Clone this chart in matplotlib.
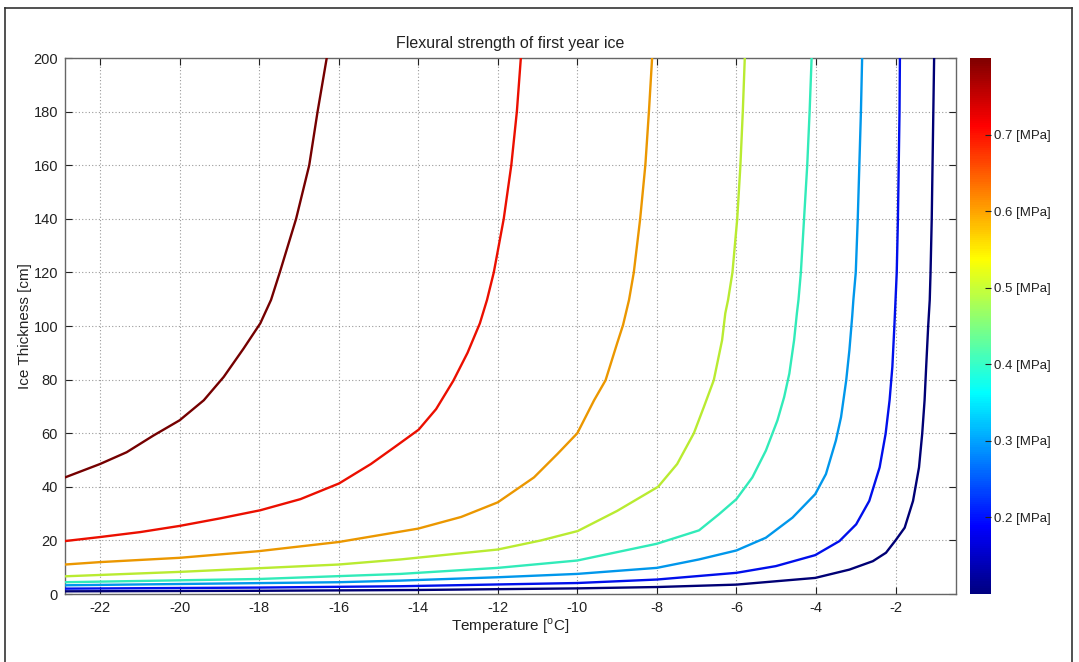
import matplotlib
matplotlib.use("Agg")
import matplotlib.pyplot as plt
import numpy as np
from matplotlib.lines import Line2D
from matplotlib import cm, colors

plt.rcParams['font.family'] = ['Liberation Sans', 'DejaVu Sans']
plt.rcParams['mathtext.fontset'] = 'custom'
plt.rcParams['mathtext.rm'] = 'Liberation Sans'

# Contour levels (MPa)
levels = [0.1, 0.2, 0.3, 0.4, 0.5, 0.6, 0.7, 0.8]

# Curves: temperature [degC] and ice thickness [cm]
t_01 = [-22.88, -18, -14, -10, -8, -6, -4.02, -3.16, -2.57, -2.24, -2.0, -1.77, -1.56, -1.41, -1.33, -1.27, -1.23, -1.18, -1.14, -1.12, -1.09, -1.07, -1.05, -1.03]
h_01 = [1.0, 1.2, 1.5, 2.1, 2.6, 3.5, 6.0, 9.1, 12.25, 15.4, 20, 24.75, 34.75, 47.25, 59.75, 72.25, 84.75, 99.75, 109.75, 120, 140, 160, 180, 200]

t_02 = [-22.88, -18, -14.44, -10, -8, -6, -5.01, -4.02, -3.41, -2.99, -2.66, -2.40, -2.25, -2.15, -2.08, -2.03, -2.0, -1.97, -1.94, -1.92, -1.90, -1.89]
h_02 = [2.0, 2.4, 2.9, 4.1, 5.4, 7.9, 10.4, 14.5, 19.75, 26, 34.75, 47.25, 59.75, 72.25, 84.75, 99.75, 109.75, 120, 140, 160, 180, 200]

t_03 = [-22.88, -16, -14.44, -12, -10, -8, -6.94, -6, -5.26, -4.59, -4.02, -3.75, -3.50, -3.37, -3.24, -3.16, -3.09, -3.06, -3.0, -2.95, -2.91, -2.87, -2.84]
h_03 = [3.25, 4.4, 5.0, 6.25, 7.5, 9.75, 12.9, 16.25, 21, 28.5, 37.25, 44.75, 57.25, 66, 79.75, 91, 103.5, 109.75, 120, 140, 160, 180, 200]

t_04 = [-22.88, -18, -14.44, -12, -10, -8, -6.94, -6.44, -6, -5.6, -5.26, -4.97, -4.80, -4.67, -4.55, -4.48, -4.44, -4.38, -4.3, -4.22, -4.16, -4.11]
h_04 = [4.4, 5.6, 7.5, 9.75, 12.5, 18.75, 23.75, 29.75, 35.4, 43.5, 53.5, 64.75, 73.5, 82.25, 94.75, 104.75, 109.75, 120, 140, 160, 180, 200]

t_05 = [-22.88, -20, -16, -14.44, -12, -10.91, -9.99, -9.0, -7.97, -7.49, -7.07, -6.82, -6.57, -6.36, -6.28, -6.21, -6.1, -5.98, -5.9, -5.84, -5.79]
h_05 = [6.6, 8.25, 11.0, 12.9, 16.6, 20, 23.5, 31, 40, 48.5, 60, 69.75, 79.75, 94.75, 104.75, 109.75, 120, 140, 160, 180, 200]

t_06 = [-22.88, -22, -20, -18, -16, -14, -12.92, -12, -11.09, -10.5, -10, -9.58, -9.29, -9.0, -8.85, -8.70, -8.58, -8.42, -8.29, -8.2, -8.12]
h_06 = [11.0, 11.9, 13.5, 16, 19.4, 24.4, 28.75, 34.2, 43.5, 52.25, 60, 72.25, 79.75, 93.5, 100.4, 109.75, 120, 140, 160, 180, 200]

t_07 = [-22.88, -22, -20.99, -20, -18.97, -17.97, -16.96, -15.99, -15.19, -14.6, -13.99, -13.55, -13.12, -12.76, -12.45, -12.27, -12.1, -11.85, -11.66, -11.52, -11.42]
h_07 = [19.75, 21.25, 23.1, 25.4, 28.25, 31.25, 35.4, 41.25, 48.5, 54.75, 61.3, 69, 79.5, 90, 101, 109.75, 120, 140, 160, 180, 200]

t_08 = [-22.88, -22, -21.33, -20.66, -20, -19.39, -18.89, -18.39, -17.97, -17.70, -17.48, -17.07, -16.74, -16.53, -16.3]
h_08 = [43.5, 48.5, 52.9, 59.1, 64.8, 72.3, 81, 91.6, 101, 109.75, 120, 140, 160, 180, 200]

curves_t = [t_01, t_02, t_03, t_04, t_05, t_06, t_07, t_08]
curves_h = [h_01, h_02, h_03, h_04, h_05, h_06, h_07, h_08]

x_ticks = [-22, -20, -18, -16, -14, -12, -10, -8, -6, -4, -2]
y_ticks = [0, 20, 40, 60, 80, 100, 120, 140, 160, 180, 200]
cb_ticks = [0.2, 0.3, 0.4, 0.5, 0.6, 0.7]
cb_labels = ['0.2 [MPa]', '0.3 [MPa]', '0.4 [MPa]', '0.5 [MPa]', '0.6 [MPa]', '0.7 [MPa]']

# MATLAB-style jet colormap
_s = np.linspace(0, 1, 256)
_r = np.clip(1.5 - np.abs(4 * _s - 3), 0, 1)
_g = np.clip(1.5 - np.abs(4 * _s - 2), 0, 1)
_b = np.clip(1.5 - np.abs(4 * _s - 1), 0, 1)
cmap = colors.ListedColormap(np.column_stack([_r, _g, _b]), name='mjet')
norm = colors.Normalize(vmin=0.1, vmax=0.8)

W, H = 1079, 662
fig = plt.figure(figsize=(W / 100, H / 100), dpi=100)
fig.patch.set_facecolor('white')

ax = fig.add_axes([65 / W, 1 - 594 / H, (956 - 65) / W, (594 - 58) / H])

for lev, t, h in zip(levels, curves_t, curves_h):
    c = np.array(cmap(norm(lev))[:3]) * 0.92
    ax.plot(t, h, color=c, lw=1.7, solid_joinstyle='round', zorder=3)

ax.set_xlim(-22.88, -0.48)
ax.set_ylim(0, 200)
ax.set_xticks(x_ticks)
ax.set_xticklabels([str(v) for v in x_ticks])
ax.set_yticks(y_ticks)
ax.grid(True, linestyle=(0, (1, 2)), color='#9a9a9a', linewidth=0.8)
ax.tick_params(direction='in', length=5, width=0.8, top=True, right=True,
               labelsize=10.5, colors='#222222', pad=5)
for s in ax.spines.values():
    s.set_color('#666666')
    s.set_linewidth(1.0)

ax.set_title('Flexural strength of first year ice', fontsize=11.5, pad=7, color='#222222')
ax.set_xlabel(r'Temperature [$^{\rm o}$C]', fontsize=11, labelpad=1, color='#222222')
ax.set_ylabel('Ice Thickness [cm]', fontsize=11, labelpad=1, color='#222222')

cax = fig.add_axes([970 / W, 1 - 594 / H, 21 / W, (594 - 58) / H])
sm = cm.ScalarMappable(norm=norm, cmap=cmap)
cb = fig.colorbar(sm, cax=cax, ticks=cb_ticks)
cb.set_ticklabels(cb_labels)
cb.ax.tick_params(direction='in', length=4, width=0.8, labelsize=9.5, colors='#222222', pad=2)
cb.outline.set_visible(False)

# outer frame
fr = '#333333'
fig.add_artist(Line2D([5 / W, 5 / W], [0, 1 - 8 / H], transform=fig.transFigure, color=fr, lw=1.2))
fig.add_artist(Line2D([1072 / W, 1072 / W], [0, 1 - 8 / H], transform=fig.transFigure, color=fr, lw=1.2))
fig.add_artist(Line2D([5 / W, 1072 / W], [1 - 8 / H, 1 - 8 / H], transform=fig.transFigure, color=fr, lw=1.2))

fig.savefig('out.png', dpi=100)
